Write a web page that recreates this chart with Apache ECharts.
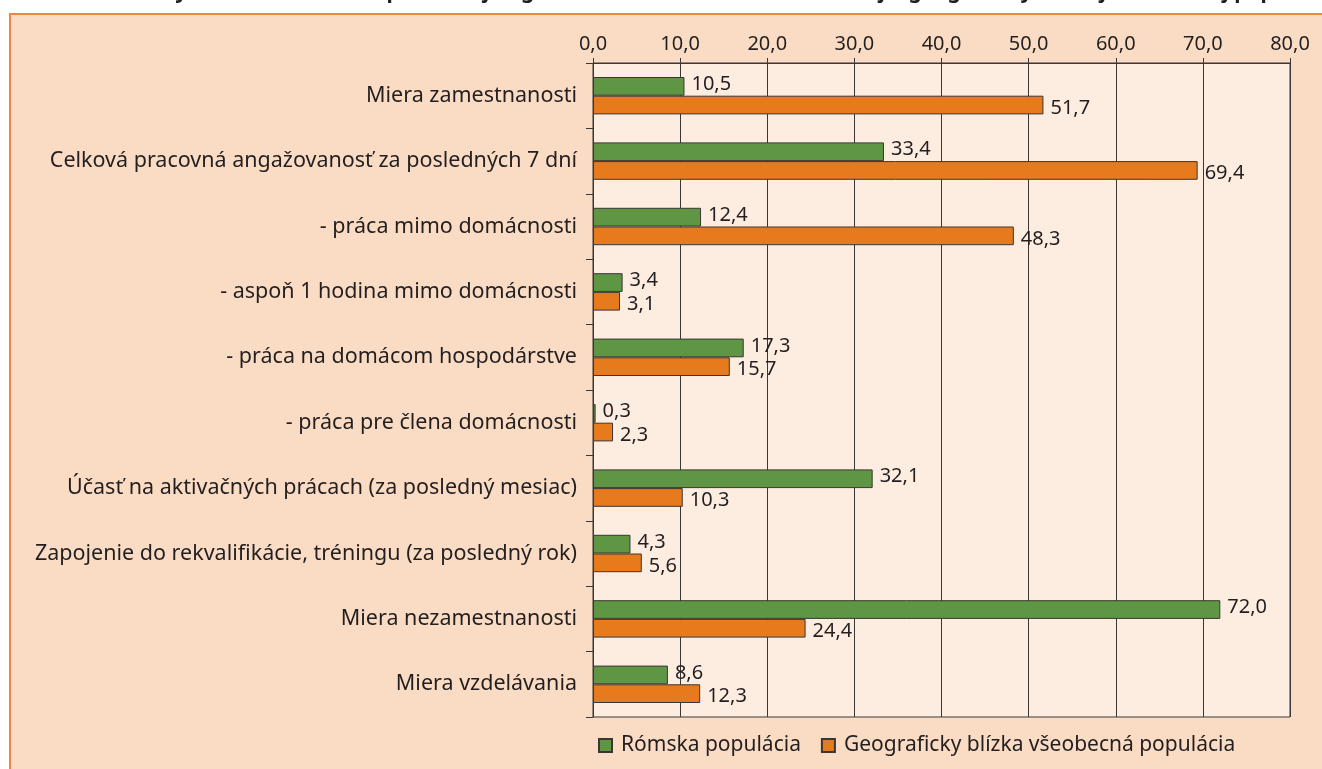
<!DOCTYPE html>
<html>
<head>
<meta charset="utf-8">
<script src="https://cdn.jsdelivr.net/npm/echarts@6/dist/echarts.min.js"></script>
<style>
  html, body { margin: 0; padding: 0; background: #ffffff; }
  #chart { width: 1322px; height: 769px; }
</style>
</head>
<body>
<div id="chart"></div>
<script>
// Indicators (top to bottom)
const categories = [
  'Miera zamestnanosti',
  'Celková pracovná angažovanosť za posledných 7 dní',
  '- práca mimo domácnosti',
  '- aspoň 1 hodina mimo domácnosti',
  '- práca na domácom hospodárstve',
  '- práca pre člena domácnosti',
  'Účasť na aktivačných prácach (za posledný mesiac)',
  'Zapojenie do rekvalifikácie, tréningu (za posledný rok)',
  'Miera nezamestnanosti',
  'Miera vzdelávania'
];
const seriesNames = ['Rómska populácia', 'Geograficky blízka všeobecná populácia'];
const romaValues = [10.5, 33.4, 12.4, 3.4, 17.3, 0.3, 32.1, 4.3, 72.0, 8.6];
const generalValues = [51.7, 69.4, 48.3, 3.1, 15.7, 2.3, 10.3, 5.6, 24.4, 12.3];
const axisMin = 0;
const axisMax = 80;
const axisStep = 10;
const titleText = 'Graf 4: Vybrané ukazovatele pracovnej angažovanosti a vzdelávania rómskej a geograficky blízkej všeobecnej populácie (v %)';

const FONT = '"Noto Sans", "Open Sans", sans-serif';
const TEXT = '#231f20';
const LINE = '#3a3636';
const fmt = v => Number(v).toFixed(1).replace('.', ',');

const chart = echarts.init(document.getElementById('chart'), null, { renderer: 'canvas' });

const barSeries = (name, data, color, dy) => ({
  name: name,
  type: 'bar',
  data: data,
  barWidth: 18.7,
  barGap: '0%',
  itemStyle: { color: color, borderColor: LINE, borderWidth: 1 },
  label: {
    show: true,
    position: 'right',
    distance: 7,
    offset: [0, dy],
    formatter: p => fmt(p.value),
    color: TEXT,
    fontFamily: FONT,
    fontSize: 20
  },
  emphasis: { disabled: true },
  animation: false
});

chart.setOption({
  backgroundColor: '#ffffff',
  animation: false,
  graphic: [
    {
      type: 'rect',
      z: -10,
      shape: { x: 10, y: 14, width: 1400, height: 800 },
      style: { fill: '#fadcc4', stroke: '#ef8446', lineWidth: 2 },
      silent: true
    },
    {
      // heading line sits above the panel and is cut by the page edge
      type: 'text',
      z: -5,
      style: {
        text: titleText,
        x: 740,
        y: 3,
        align: 'center',
        verticalAlign: 'bottom',
        font: 'bold 21px ' + FONT,
        fill: TEXT
      },
      silent: true
    }
  ],
  grid: {
    left: 593,
    right: 32,
    top: 63,
    bottom: 52,
    show: true,
    backgroundColor: '#fdece0',
    borderColor: LINE,
    borderWidth: 1
  },
  legend: {
    left: 593,
    bottom: 8,
    itemWidth: 13,
    itemHeight: 13,
    itemGap: 20,
    icon: 'rect',
    data: seriesNames,
    textStyle: { color: TEXT, fontFamily: FONT, fontSize: 21, padding: [0, 0, 0, 4] }
  },
  xAxis: {
    type: 'value',
    position: 'top',
    min: axisMin,
    max: axisMax,
    interval: axisStep,
    axisLine: { show: true, lineStyle: { color: LINE, width: 1 } },
    axisTick: { show: true, length: 5, lineStyle: { color: LINE } },
    splitLine: { show: true, lineStyle: { color: LINE, width: 1 } },
    axisLabel: {
      color: TEXT,
      fontFamily: FONT,
      fontSize: 20,
      margin: 9,
      formatter: v => fmt(v)
    }
  },
  yAxis: {
    type: 'category',
    inverse: true,
    data: categories,
    axisLine: { show: true, lineStyle: { color: LINE, width: 1 } },
    axisTick: { show: true, length: 7, lineStyle: { color: LINE } },
    axisLabel: { color: TEXT, fontFamily: FONT, fontSize: 21.5, margin: 16 }
  },
  series: [
    barSeries(seriesNames[0], romaValues, '#5e9643', -2),
    barSeries(seriesNames[1], generalValues, '#e87a1e', 3)
  ]
});
</script>
</body>
</html>
